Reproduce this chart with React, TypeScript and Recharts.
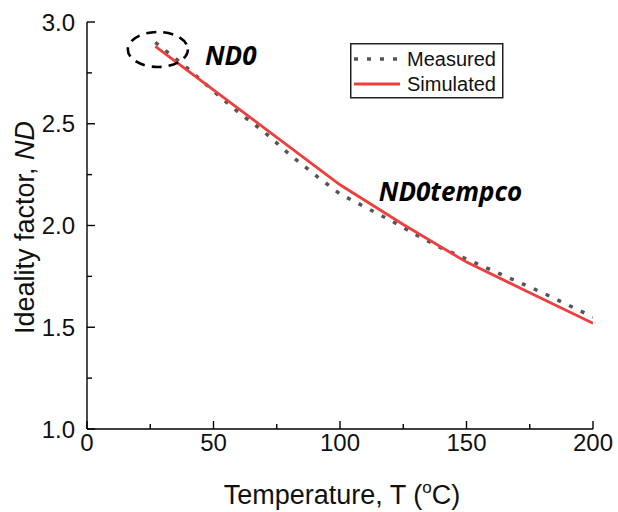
import { LineChart, Line, XAxis, YAxis, Legend, ReferenceDot, Label } from "recharts";

// Measured ideality factor vs temperature
const MEAS_T = [27, 30, 40, 50, 60, 70, 80, 90, 100, 110, 120, 130, 140, 150, 160, 170, 180, 190, 200];
const MEAS_ND = [2.9, 2.87, 2.77, 2.66, 2.555, 2.46, 2.35, 2.25, 2.155, 2.09, 2.025, 1.955, 1.89, 1.835, 1.78, 1.725, 1.67, 1.61, 1.55];

// Simulated (model) ideality factor
const SIM_T = [27, 100, 125, 150, 175, 200];
const SIM_ND = [2.88, 2.2, 2.005, 1.82, 1.67, 1.52];

const X_TICKS = [0, 25, 50, 75, 100, 125, 150, 175, 200];
const X_LABELS = [0, 50, 100, 150, 200];
const Y_TICKS = [1.0, 1.25, 1.5, 1.75, 2.0, 2.25, 2.5, 2.75, 3.0];
const Y_LABELS = [1.0, 1.5, 2.0, 2.5, 3.0];

const measured = MEAS_T.map((t, i) => ({ t, nd: MEAS_ND[i] }));
const simulated = SIM_T.map((t, i) => ({ t, nd: SIM_ND[i] }));

const FONT = "'Liberation Sans', Arial, sans-serif";
const NOTE_FONT = "'Open Sans', 'Noto Sans', sans-serif";

const SERIES_STYLE: Record<string, { stroke: string; dash?: string; width: number }> = {
  Measured: { stroke: "#555555", dash: "4 9", width: 3.5 },
  Simulated: { stroke: "#ef3e3e", width: 2.8 },
};

function XTick(props: any) {
  const { x, y, payload } = props;
  const major = X_LABELS.includes(payload.value);
  return (
    <g>
      <line x1={x} x2={x} y1={y} y2={y - (major ? 8 : 5)} stroke="#000" strokeWidth={1.4} />
      {major && (
        <text x={x} y={y + 22} textAnchor="middle" fontFamily={FONT} fontSize={24} fill="#111">
          {payload.value}
        </text>
      )}
    </g>
  );
}

function YTick(props: any) {
  const { x, y, payload } = props;
  const major = Y_LABELS.includes(payload.value);
  return (
    <g>
      <line x1={x} x2={x + (major ? 8 : 5)} y1={y} y2={y} stroke="#000" strokeWidth={1.4} />
      {major && (
        <text x={x - 12} y={y + 8.5} textAnchor="end" fontFamily={FONT} fontSize={24} fill="#111">
          {payload.value.toFixed(1)}
        </text>
      )}
    </g>
  );
}

function LegendBox(props: any) {
  const items = props.payload || [];
  return (
    <svg width={154} height={56}>
      <rect x={0.75} y={0.75} width={152} height={54} fill="#fff" stroke="#222" strokeWidth={1.5} />
      {items.map((it: any, i: number) => {
        const st = SERIES_STYLE[it.value];
        const cy = 16 + i * 25;
        return (
          <g key={it.value}>
            <line x1={4} x2={50} y1={cy} y2={cy} stroke={st.stroke} strokeWidth={st.width} strokeDasharray={st.dash} />
            <text x={57} y={cy + 7} fontFamily={FONT} fontSize={20} fill="#111">
              {it.value}
            </text>
          </g>
        );
      })}
    </svg>
  );
}

export default function App() {
  return (
    <div style={{ position: "absolute", left: 0, top: 0, background: "#fff" }}>
      <LineChart width={618} height={512} margin={{ top: 22, right: 25, left: 0, bottom: 0 }}>
        <XAxis
          type="number"
          dataKey="t"
          domain={[0, 200]}
          ticks={X_TICKS}
          interval={0}
          tickSize={0}
          tickMargin={0}
          tick={<XTick />}
          height={83}
          stroke="#000"
          strokeWidth={1.4}
          allowDataOverflow
        >
          <Label
            content={(p: any) => {
              const vb = p.viewBox;
              return (
                <text x={vb.x + vb.width / 2 + 2} y={vb.y + 75} textAnchor="middle" fontFamily={FONT} fontSize={27} fill="#111">
                  Temperature, T (<tspan fontSize={17} dy={-11}>o</tspan>
                  <tspan dy={11}>C)</tspan>
                </text>
              );
            }}
          />
        </XAxis>
        <YAxis
          type="number"
          dataKey="nd"
          domain={[1, 3]}
          ticks={Y_TICKS}
          interval={0}
          tickSize={0}
          tickMargin={0}
          tick={<YTick />}
          width={87}
          stroke="#000"
          strokeWidth={1.4}
          allowDataOverflow
        >
          <Label
            content={(p: any) => {
              const vb = p.viewBox;
              const cx = vb.x + 34;
              const cy = vb.y + vb.height / 2 + 2;
              return (
                <text x={cx} y={cy} transform={`rotate(-90 ${cx} ${cy})`} textAnchor="middle" fontFamily={FONT} fontSize={27} fill="#111">
                  Ideality factor, <tspan fontStyle="italic">ND</tspan>
                </text>
              );
            }}
          />
        </YAxis>
        <Legend
          layout="vertical"
          align="center"
          verticalAlign="middle"
          wrapperStyle={{ left: 350, top: 43, width: 154, height: 56 }}
          content={<LegendBox />}
        />
        <Line
          name="Measured"
          data={measured}
          dataKey="nd"
          type="linear"
          stroke={SERIES_STYLE.Measured.stroke}
          strokeWidth={SERIES_STYLE.Measured.width}
          strokeDasharray={SERIES_STYLE.Measured.dash}
          dot={false}
          isAnimationActive={false}
        />
        <Line
          name="Simulated"
          data={simulated}
          dataKey="nd"
          type="linear"
          stroke={SERIES_STYLE.Simulated.stroke}
          strokeWidth={SERIES_STYLE.Simulated.width}
          dot={false}
          isAnimationActive={false}
        />
        <ReferenceDot
          x={28}
          y={2.865}
          r={0}
          shape={(p: any) => (
            <ellipse cx={p.cx} cy={p.cy} rx={30} ry={17.5} fill="none" stroke="#000" strokeWidth={2.6} strokeDasharray="10 7" />
          )}
        />
        <ReferenceDot
          x={56.8}
          y={2.84}
          r={0}
          shape={(p: any) => (
            <text x={p.cx} y={p.cy + 10} textAnchor="middle" fontFamily={NOTE_FONT} fontWeight="bold" fontStyle="italic" fontSize={26} fill="#000">
              ND0
            </text>
          )}
        />
        <ReferenceDot
          x={143.7}
          y={2.17}
          r={0}
          shape={(p: any) => (
            <text x={p.cx} y={p.cy + 10} textAnchor="middle" fontFamily={NOTE_FONT} fontWeight="bold" fontStyle="italic" fontSize={26} fill="#000">
              ND0tempco
            </text>
          )}
        />
      </LineChart>
    </div>
  );
}
